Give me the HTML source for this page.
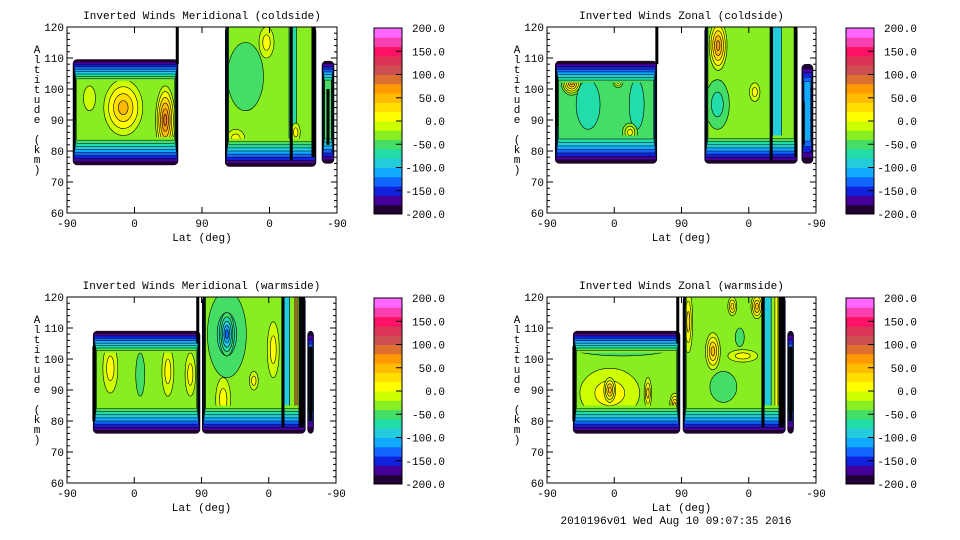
<!DOCTYPE html>
<html><head><meta charset="utf-8"><style>
html,body{margin:0;padding:0;background:#fff;width:960px;height:540px;overflow:hidden}
svg text{font-family:"Liberation Mono",monospace;font-size:11px;fill:#000}
</style></head><body>
<svg id="root" width="960" height="540" xmlns="http://www.w3.org/2000/svg"></svg>
<script>
// colour scale: 20 bands from -200 to 200
const bandColors = ["#220033","#440099","#1122dd","#1166ff","#11aaff","#22ccdd","#22ddaa","#44dd66","#88ee22","#ccff00","#ffff00","#ffdd00","#ffbb00","#ff9900","#dd7030","#cc5050","#dd3355","#ff1166","#f840b0","#ff66ff"];
const colorbarLabels = ["200.0","150.0","100.0","50.0","0.0","-50.0","-100.0","-150.0","-200.0"];
const xTickLabels = ["-90","0","90","0","-90"];
const yTickLabels = [120,110,100,90,80,70,60];
const titles = ["Inverted Winds Meridional (coldside)","Inverted Winds Zonal (coldside)","Inverted Winds Meridional (warmside)","Inverted Winds Zonal (warmside)"];
// regions: [s0, s1, altBottom, altTop, baseValue]  (s = orbit position 0..360)
const regionsTL = [[8,148,75.5,109.5,-25],[211,332,75,120,-25],[340,356,76,109,-60]];
const regionsTR = [[11,147,76,109,-45],[211,335,76,120,-25],[341,356,76,108,-110]];
const regionsBL = [[35,178,76,109,-25],[181,319,76,120,-25],[322,330,76,109,-110]];
const regionsBR = [[35,178,76,109,-25],[182,319,76,120,-25],[322,330,76,109,-110]];
// blobs: [s, alt, radiusS, radiusAlt, peakValue]
const blobsTL = [[75,94,26,9,50],[131,90,13,11,85],[238,104,24,11,-50],[266,115,10,5,10],[225,84,12,3,10],[305,86,6,3,10],[30,97,8,4,-15]];
const blobsTR = [[33,102,14,4,60],[55,95,16,8,-70],[120,95,10,8,-70],[111,86,10,3,5],[95,102.5,7,2,5],[229,114,12,8,75],[228,95,16,8,-65],[278,99,7,3,5]];
const blobsBL = [[58,97,10,8,10],[135,96,8,8,10],[165,95,7,7,10],[98,95,6,7,-60],[214,108,26,14,-75],[214,108,10,7,-125],[209,87,10,7,10],[276,103,8,9,10],[250,93,6,3,10]];
const blobsBR = [[84,89,40,8,10],[84,90,8,4,50],[135,89,5,5,30],[171,85,7,4,50],[100,104,70,3,-65],[222,102.5,10,6,55],[189,112,6,10,35],[281,117,8,4,55],[248,117,6,3,35],[236,91,18,5,-60],[258,107,6,3,-60],[262,101,20,2,10]];
// strips: [s0, s1, altBottom, altTop, value]
const stripsTL = [[296,306,78,120,-80],[343,353,80,104,-60]];
const stripsTR = [[302,314,78,120,-90]];
const stripsBL = [[289,298,78,120,-100],[305,308,80,120,90]];
const stripsBR = [[291,300,78,120,-100],[305,309,80,120,10]];
// black contour-dense lines: [s, altBottom, altTop]
const linesTL = [[147,108,120],[299,77,120],[328,78,120],[348,82,100],[10,90,103]];
const linesTR = [[147,108,120],[13,88,104],[300,77,120],[333,78,120],[343,82,96]];
const linesBL = [[36,80,104],[175,105,120],[289,78,120],[312,78,120],[315,78,120],[326,80,104]];
const linesBR = [[36,80,104],[175,105,120],[289,78,120],[312,78,120],[315,78,120],[326,80,104]];

const panels = [
 {key:"tl",x0:67,x1:337,y0:27,y1:213,cb:374,regions:regionsTL,blobs:blobsTL,strips:stripsTL,lines:linesTL},
 {key:"tr",x0:547,x1:816,y0:27,y1:213,cb:846,regions:regionsTR,blobs:blobsTR,strips:stripsTR,lines:linesTR},
 {key:"bl",x0:67,x1:336,y0:297,y1:483,cb:374,regions:regionsBL,blobs:blobsBL,strips:stripsBL,lines:linesBL},
 {key:"br",x0:547,x1:816,y0:297,y1:483,cb:846,regions:regionsBR,blobs:blobsBR,strips:stripsBR,lines:linesBR}
];
const NS="http://www.w3.org/2000/svg";
const root=document.getElementById('root');
function mk(tag,attrs,parent){const e=document.createElementNS(NS,tag);for(const k in attrs)e.setAttribute(k,attrs[k]);(parent||root).appendChild(e);return e;}
function idx(v){return Math.max(0,Math.min(19,Math.floor((v+200)/20)));}

panels.forEach((p,pi)=>{
  const xOf=s=>p.x0+(s/360)*(p.x1-p.x0);
  const yOf=a=>p.y0+(120-a)/60*(p.y1-p.y0);
  const g=mk('g',{});
  
  
  const defs=mk('defs',{},g);
  p.regions.forEach((r,ri)=>{
    const [s0,s1,a0,a1,base]=r;
    const rg=mk('g',{},g);
    
    
    const bi=idx(base);
    const n=bi+1;
    const botT=9,topT=(a1>=120?0:7),sideT=Math.min(5,(s1-s0)/4);
    for(let k=0;k<n;k++){
      const f=k/n;
      const xa=xOf(s0+sideT*f), xb=xOf(s1-sideT*f);
      const ya=yOf(a1-topT*f), yb=yOf(a0+botT*f);
      const rect=mk('rect',{x:xa,y:ya,width:Math.max(0.5,xb-xa),height:Math.max(0.5,yb-ya),rx:k==0?4:1,fill:bandColors[k],stroke:'#000','stroke-width':0.5},rg);
      
      
    }
    const cid='clip-'+p.key+'-'+ri;
    const cp=mk('clipPath',{id:cid},defs);
    mk('rect',{x:xOf(s0+sideT),y:yOf(a1-topT),width:xOf(s1-sideT)-xOf(s0+sideT),height:yOf(a0+botT)-yOf(a1-topT)},cp);
    const inner=mk('g',{'clip-path':'url(#'+cid+')'},rg);
    p.strips.forEach(st=>{ if(st[0]>=s0&&st[1]<=s1+1){
      const e=mk('rect',{x:xOf(st[0]),y:yOf(st[3]),width:xOf(st[1])-xOf(st[0]),height:yOf(st[2])-yOf(st[3]),fill:bandColors[idx(st[4])],stroke:'#000','stroke-width':0.6},inner);
      
      
    }});
    p.blobs.forEach(b=>{ if(b[0]>=s0&&b[0]<=s1){
      const bi2=idx(b[4]); const steps=Math.abs(bi2-bi); const sg=bi2>bi?1:-1;
      for(let k=1;k<=steps;k++){
        const sc=1-(k-1)/steps;
        const cx=xOf(b[0]),cy=yOf(b[1]);
        const rx=xOf(b[0]+b[2]*sc)-cx, ry=yOf(b[1]-b[3]*sc)-cy;
        const e=mk('ellipse',{cx:cx,cy:cy,rx:rx,ry:ry,fill:bandColors[bi+sg*k],stroke:'#000','stroke-width':0.6},inner);
        
        
      }
    }});
  });
  p.lines.forEach(l=>{
    const e=mk('rect',{x:xOf(l[0])-1.5,y:yOf(l[2]),width:3,height:yOf(l[1])-yOf(l[2]),fill:'#000'},g);
    
    
  });
  const fr=mk('rect',{x:p.x0,y:p.y0,width:p.x1-p.x0,height:p.y1-p.y0,fill:'none',stroke:'#000','stroke-width':1},g);
  
  
  for(let a=60;a<=120;a+=2){
    const L=(a%10==0)?6:3;const y=yOf(a);
    mk('line',{x1:p.x0,x2:p.x0+L,y1:y,y2:y,stroke:'#000','stroke-width':1},g);
    mk('line',{x1:p.x1,x2:p.x1-L,y1:y,y2:y,stroke:'#000','stroke-width':1},g);
  }
  yTickLabels.forEach(v=>{
    const t=mk('text',{x:p.x0-3,y:yOf(v)+4,'text-anchor':'end'},g);t.textContent=v;
    
    
  });
  xTickLabels.forEach((lab,i)=>{
    const s=i*90,x=xOf(s);
    mk('line',{x1:x,x2:x,y1:p.y1,y2:p.y1-6,stroke:'#000'},g);
    mk('line',{x1:x,x2:x,y1:p.y0,y2:p.y0+6,stroke:'#000'},g);
    const t=mk('text',{x:x,y:p.y1+14,'text-anchor':'middle'},g);t.textContent=lab;
    
    
  });
  const tt=mk('text',{x:(p.x0+p.x1)/2,y:p.y0-8,'text-anchor':'middle'},g);tt.textContent=titles[pi];
  
  
  const xl=mk('text',{x:(p.x0+p.x1)/2,y:p.y1+28,'text-anchor':'middle'},g);xl.textContent='Lat (deg)';
  
  
  const yl=mk('text',{x:p.x0-30,y:p.y0+22,'text-anchor':'middle'},g);
  
  
  "Altitude (km)".split('').forEach((c,i)=>{const ts=mk('tspan',{x:p.x0-30,y:p.y0+26+i*10},yl);ts.textContent=c;});
  const cbg=mk('g',{},g);
  
  
  const cy0=p.y0+1,cy1=p.y1+1,bh=(cy1-cy0)/20;
  bandColors.forEach((c,i)=>{
    mk('rect',{x:p.cb,y:cy1-(i+1)*bh,width:28,height:bh+0.5,fill:c},cbg);
  });
  mk('rect',{x:p.cb,y:cy0,width:28,height:cy1-cy0,fill:'none',stroke:'#000'},cbg);
  colorbarLabels.forEach((lab,i)=>{
    const y=cy0+i*(cy1-cy0)/8;
    mk('line',{x1:p.cb+22,x2:p.cb+28,y1:y,y2:y,stroke:'#000'},cbg);
    const t=mk('text',{x:p.cb+71,y:y+4,'text-anchor':'end'},cbg);t.textContent=lab;
    
    
  });
});
const ft=mk('text',{x:676,y:524,'text-anchor':'middle'});ft.textContent='2010196v01 Wed Aug 10 09:07:35 2016';


</script>
</body></html>
